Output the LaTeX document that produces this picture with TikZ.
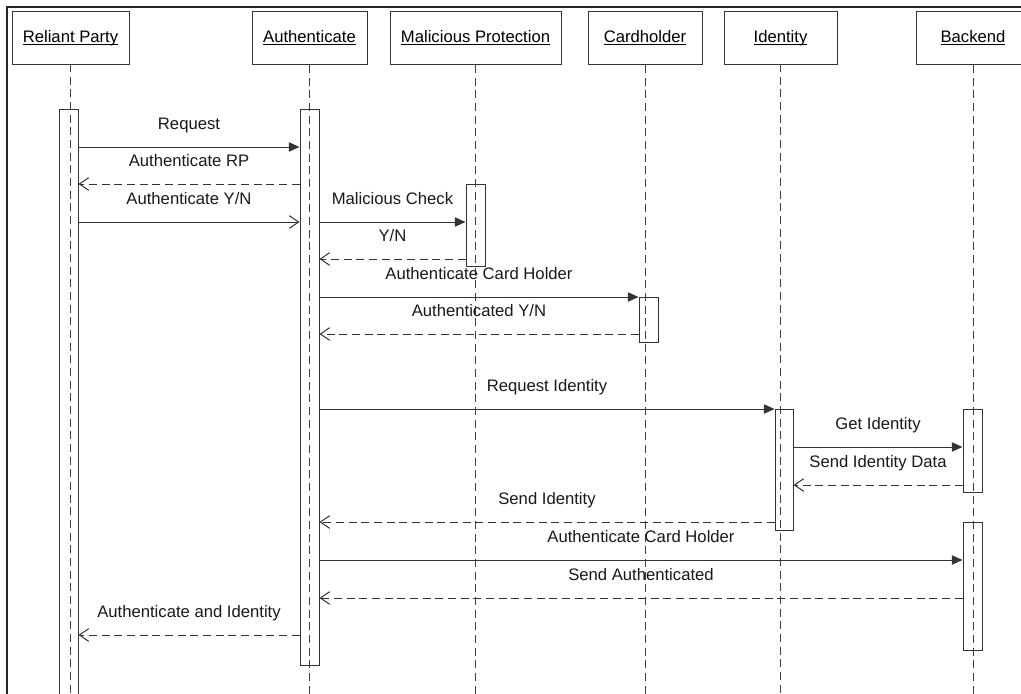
\documentclass[tikz,border=0pt]{standalone}
\usepackage{fontspec}
\setmainfont{Liberation Sans}
\usetikzlibrary{arrows.meta,fit}
% underline set just below the baseline, as in the lifeline headers
\newcommand\hdtext[1]{\setbox0\hbox{#1}\rlap{\rule[-1.8pt]{\wd0}{0.6pt}}\box0}
\begin{document}
\begin{tikzpicture}[x=0.75pt,y=-0.75pt,
  font=\fontsize{12.5}{15}\selectfont,
  head/.style={draw=black!80, line width=0.75pt, inner sep=0pt,
    minimum height=53*0.75pt, anchor=north},
  act/.style={draw=black!80, line width=0.75pt, inner sep=0pt},
  life/.style={draw=black!75, line width=0.7pt, dash pattern=on 6pt off 3.5pt},
  msgcall/.style={draw=black!80, line width=0.75pt, -{Triangle[length=8pt,width=7pt]}},
  msgret/.style={draw=black!80, line width=0.75pt, dash pattern=on 6pt off 3.5pt,
    -{Straight Barb[length=7pt,width=9.5pt]}},
  msgopen/.style={draw=black!80, line width=0.75pt, -{Straight Barb[length=7pt,width=9.5pt]}},
  lbl/.style={pos=0.5, anchor=base, yshift=13.5pt, text=black!90},
]
\useasboundingbox (0,0) rectangle (1021,693);
\clip (0,0) rectangle (1021,693);

% outer frame (left and top edges)
\draw[line width=1.1pt, black!85] (7,710) -- (7,7) -- (1040,7);

% lifeline heads
\node[head, minimum width=117*0.75pt] (rp) at (70.5,11) {\hdtext{Reliant Party}};
\node[head, minimum width=115*0.75pt] (au) at (309.5,11) {\hdtext{Authenticate}};
\node[head, minimum width=171*0.75pt] (mp) at (475.5,11) {\hdtext{Malicious Protection}};
\node[head, minimum width=114*0.75pt] (ch) at (645,11) {\hdtext{Cardholder}};
\node[head, minimum width=113*0.75pt] (id) at (780.5,11) {\hdtext{Identity}};
\node[head, minimum width=114*0.75pt] (be) at (973,11) {\hdtext{Backend}};

% activation bars
\node[act, fit={(59,109) (78,710)}] (rpA) {};
\node[act, fit={(300,109) (319,665)}] (auA) {};
\node[act, fit={(466,184) (485,266)}] (mpA) {};
\node[act, fit={(639,297) (658,342)}] (chA) {};
\node[act, fit={(775,409) (793,530)}] (idA) {};
\node[act, fit={(963,409) (982,492)}] (beA) {};
\node[act, fit={(963,522) (982,650)}] (beB) {};

% lifelines
\coordinate (bottom) at (0,710);
\draw[life] (70,64) -- (70,710);
\draw[life] (au.south) -- (au.south |- bottom);
\draw[life] (mp.south) -- (mp.south |- bottom);
\draw[life] (ch.south) -- (ch.south |- bottom);
\draw[life] (780.5,64) -- (780.5,710);
\draw[life] (be.south) -- (be.south |- bottom);

% message rows
\coordinate (m1) at (0,147);
\coordinate (m2) at (0,184);
\coordinate (m3) at (0,222);
\coordinate (m4) at (0,259);
\coordinate (m5) at (0,297);
\coordinate (m6) at (0,334);
\coordinate (m7) at (0,409);
\coordinate (m8) at (0,447);
\coordinate (m9) at (0,485);
\coordinate (m10) at (0,522);
\coordinate (m11) at (0,560);
\coordinate (m12) at (0,598);
\coordinate (m13) at (0,635);

% messages
\draw[msgcall] (rpA.east |- m1) -- node[lbl] {Request} (auA.west |- m1);
\draw[msgret] (auA.west |- m2) -- node[lbl] {Authenticate RP} (rpA.east |- m2);
\draw[msgopen] (rpA.east |- m3) -- node[lbl] {Authenticate Y/N} (auA.west |- m3);
\draw[msgcall] (auA.east |- m3) -- node[lbl] {Malicious Check} (mpA.west |- m3);
\draw[msgret] (mpA.west |- m4) -- node[lbl] {Y/N} (auA.east |- m4);
\draw[msgcall] (auA.east |- m5) -- node[lbl] {Authenticate Card Holder} (chA.west |- m5);
\draw[msgret] (chA.west |- m6) -- node[lbl] {Authenticated Y/N} (auA.east |- m6);
\draw[msgcall] (auA.east |- m7) -- node[lbl] {Request Identity} (idA.west |- m7);
\draw[msgcall] (idA.east |- m8) -- node[lbl] {Get Identity} (beA.west |- m8);
\draw[msgret] (beA.west |- m9) -- node[lbl] {Send Identity Data} (idA.east |- m9);
\draw[msgret] (idA.west |- m10) -- node[lbl] {Send Identity} (auA.east |- m10);
\draw[msgcall] (auA.east |- m11) -- node[lbl] {Authenticate Card Holder} (beB.west |- m11);
\draw[msgret] (beB.west |- m12) -- node[lbl] {Send Authenticated} (auA.east |- m12);
\draw[msgret] (auA.west |- m13) -- node[lbl] {Authenticate and Identity} (rpA.east |- m13);
\end{tikzpicture}
\end{document}
